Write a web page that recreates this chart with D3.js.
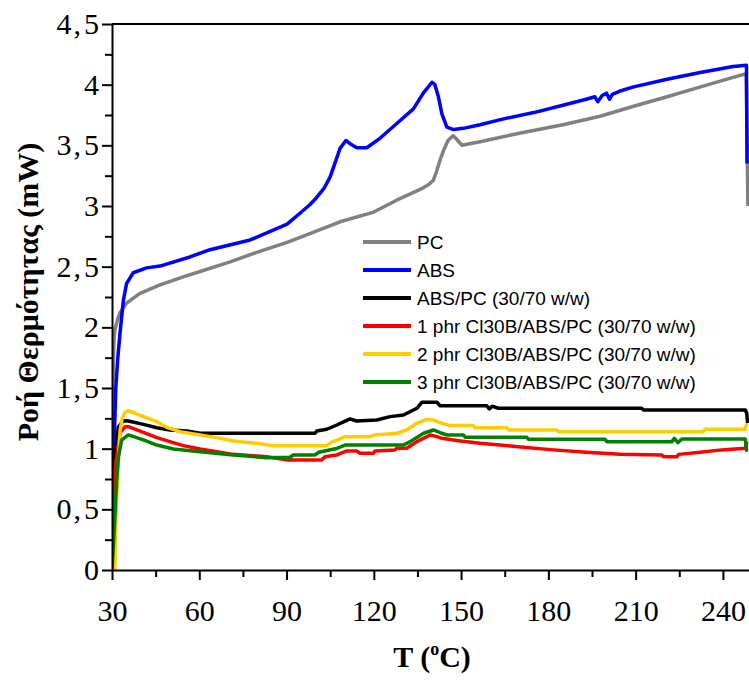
<!DOCTYPE html>
<html>
<head>
<meta charset="utf-8">
<script src="https://cdn.jsdelivr.net/npm/d3@7"></script>
<style>
  html, body { margin: 0; padding: 0; background: #fff; }
  svg { display: block; }
  .serif { font-family: "Liberation Serif", "Times New Roman", Times, serif; }
  .sans { font-family: "Liberation Sans", Arial, Helvetica, sans-serif; }
</style>
</head>
<body>
<svg id="chart" width="749" height="693"></svg>
<script>
// DSC heat flow curves: temperature (°C) and heat flow (mW) for each sample
const pcT = [30.0, 30.15, 30.3, 30.5, 30.7, 31.0, 32.0, 32.75, 35, 39.6, 46.5, 55, 60.3, 70.6, 80, 90.2, 100, 108.4, 120, 128, 133.5, 137, 139, 140.4, 141.5, 142.8, 144, 145.5, 147.2, 148.5, 150.3, 156.5, 170, 185, 197.8, 209, 220.8, 232, 243.5, 248.0, 248.6];
const pcFlow = [0.5, 1.0, 1.5, 1.75, 1.9, 1.98, 2.07, 2.12, 2.2, 2.28, 2.35, 2.42, 2.46, 2.54, 2.62, 2.70, 2.79, 2.87, 2.95, 3.05, 3.11, 3.15, 3.18, 3.21, 3.28, 3.38, 3.46, 3.54, 3.58, 3.55, 3.50, 3.53, 3.60, 3.67, 3.74, 3.82, 3.90, 3.98, 4.06, 4.09, 3.0];

const absT = [30.0, 30.3, 30.7, 31.3, 32.0, 32.75, 33.9, 35, 37.3, 41.9, 46.5, 56.8, 63.7, 77.5, 90.2, 94.6, 98, 99.8, 103, 105, 108.4, 110.4, 112, 114.1, 117.6, 122.2, 127.9, 133.6, 137, 140, 141, 142.2, 143.4, 145.1, 147.4, 150.8, 156.5, 165, 175, 185, 193, 196, 197, 198.5, 200, 201, 202, 205, 209, 220.8, 232.2, 243.5, 248.1, 248.3];
const absFlow = [0.05, 0.35, 1.0, 1.5, 1.75, 1.95, 2.22, 2.36, 2.45, 2.49, 2.505, 2.58, 2.64, 2.72, 2.85, 2.94, 3.01, 3.055, 3.15, 3.24, 3.475, 3.54, 3.51, 3.48, 3.48, 3.56, 3.68, 3.80, 3.93, 4.02, 4.0, 3.90, 3.76, 3.65, 3.63, 3.64, 3.67, 3.72, 3.77, 3.83, 3.88, 3.90, 3.86, 3.91, 3.93, 3.88, 3.92, 3.95, 3.98, 4.045, 4.10, 4.15, 4.16, 3.35];

const blendT = [30.1, 30.45, 30.8, 31.4, 32.2, 33.9, 35.6, 40.8, 45.4, 49.9, 55.7, 60.3, 80.9, 99.8, 100.4, 103.8, 107.3, 111.8, 114.1, 121, 125.6, 130.2, 134.8, 136.5, 141.7, 142.8, 158.8, 159.7, 160.6, 162.8, 212.1, 212.7, 247.7, 248.2, 248.5];
const blendFlow = [0, 0.33, 0.66, 1.02, 1.18, 1.23, 1.228, 1.20, 1.173, 1.154, 1.146, 1.127, 1.127, 1.127, 1.146, 1.16, 1.195, 1.245, 1.228, 1.236, 1.264, 1.277, 1.333, 1.382, 1.382, 1.354, 1.354, 1.327, 1.35, 1.333, 1.333, 1.319, 1.319, 1.29, 1.21];

const phr1T = [30.2, 30.5, 31.0, 31.6, 32.75, 34.5, 35.6, 40.8, 45.4, 49.9, 54.5, 60.3, 66, 71.7, 83.2, 90.6, 102.1, 103.2, 107.3, 110.7, 114.1, 115.3, 119.9, 120.4, 127.3, 127.9, 131.3, 134.8, 139.4, 141.7, 143.4, 149.1, 156.5, 163.4, 171.4, 181.7, 193.2, 204.7, 219, 219.6, 224.2, 224.8, 232.2, 239.6, 247.7, 248.2];
const phr1Flow = [0, 0.39, 0.82, 0.93, 1.13, 1.18, 1.181, 1.135, 1.091, 1.058, 1.025, 0.997, 0.975, 0.953, 0.934, 0.907, 0.907, 0.934, 0.948, 0.981, 0.981, 0.962, 0.962, 0.981, 0.99, 1.003, 1.003, 1.058, 1.113, 1.099, 1.085, 1.066, 1.044, 1.03, 1.011, 0.99, 0.97, 0.953, 0.948, 0.934, 0.934, 0.953, 0.97, 0.99, 1.003, 1.058];

const phr2T = [31.0, 31.2, 31.6, 32.2, 32.8, 33.5, 34.5, 35.6, 40.8, 45.4, 48.8, 53.4, 60.3, 66, 71.7, 79.8, 84.9, 103.8, 105.5, 108.4, 110.1, 118.7, 120.4, 127.9, 131.3, 134.8, 138.2, 140.5, 143.4, 146.2, 154.2, 154.8, 165.7, 166.3, 182.9, 183.5, 233.3, 233.9, 247.7, 248.2];
const phr2Flow = [0, 0.3, 0.6, 0.9, 1.15, 1.25, 1.30, 1.313, 1.264, 1.222, 1.176, 1.14, 1.113, 1.091, 1.063, 1.044, 1.025, 1.025, 1.053, 1.08, 1.099, 1.099, 1.113, 1.127, 1.154, 1.209, 1.242, 1.236, 1.209, 1.19, 1.19, 1.173, 1.173, 1.154, 1.154, 1.14, 1.14, 1.16, 1.16, 1.21];

const phr3T = [30.0, 30.45, 31.0, 31.6, 32.2, 33.3, 35.6, 40.8, 45.4, 51.1, 60.3, 71.7, 83.2, 91.2, 92.3, 99.8, 101, 107.3, 110.1, 130.2, 132.5, 137.1, 140.5, 143.4, 145.1, 150.8, 151.4, 172.6, 173.2, 199.5, 200.1, 222.5, 223.3, 224.5, 225.9, 247.7, 248.2];
const phr3Flow = [0, 0.19, 0.44, 0.74, 0.93, 1.07, 1.113, 1.072, 1.03, 0.997, 0.975, 0.948, 0.926, 0.929, 0.948, 0.948, 0.97, 1.002, 1.03, 1.03, 1.058, 1.127, 1.154, 1.127, 1.113, 1.113, 1.094, 1.094, 1.077, 1.077, 1.058, 1.058, 1.085, 1.05, 1.08, 1.08, 0.975];

const seriesNames = ["PC", "ABS", "ABS/PC (30/70 w/w)", "1 phr Cl30B/ABS/PC (30/70 w/w)", "2 phr Cl30B/ABS/PC (30/70 w/w)", "3 phr Cl30B/ABS/PC (30/70 w/w)"];
const seriesColors = ["#808080", "#0000ff", "#000000", "#ff0000", "#ffcc00", "#008000"];

const xTicks = [30, 60, 90, 120, 150, 180, 210, 240];
const xMinorTicks = [45, 75, 105, 135, 165, 195, 225];
const yTicks = [0, 0.5, 1, 1.5, 2, 2.5, 3, 3.5, 4, 4.5];
const yMinorTicks = [0.25, 0.75, 1.25, 1.75, 2.25, 2.75, 3.25, 3.75, 4.25];

const series = [
  [pcT, pcFlow], [absT, absFlow], [blendT, blendFlow],
  [phr1T, phr1Flow], [phr2T, phr2Flow], [phr3T, phr3Flow]
].map(([t, f], i) => ({
  name: seriesNames[i],
  color: seriesColors[i],
  points: t.map((d, j) => ({ t: d, v: f[j] }))
}));

const margin = { left: 112, top: 24 };
const plotW = 640, plotH = 546;
const svg = d3.select("#chart");

const x = d3.scaleLinear().domain([30, 250]).range([margin.left, margin.left + plotW]);
const y = d3.scaleLinear().domain([0, 4.5]).range([margin.top + plotH, margin.top]);

// frame (top and right edges)
svg.append("path")
  .attr("d", `M${x(30)},${y(4.5)}H${x(250)}V${y(0)}`)
  .attr("fill", "none").attr("stroke", "#000").attr("stroke-width", 2);

// clip for the curves
svg.append("clipPath").attr("id", "plotClip")
  .append("rect").attr("x", x(30)).attr("y", y(4.5) - 5).attr("width", plotW).attr("height", plotH + 5);

const line = d3.line().x(d => x(d.t)).y(d => y(d.v));
const curves = svg.append("g").attr("clip-path", "url(#plotClip)");
series.forEach(s => {
  curves.append("path")
    .datum(s.points)
    .attr("d", line)
    .attr("fill", "none")
    .attr("stroke", s.color)
    .attr("stroke-width", 3.5)
    .attr("stroke-linejoin", "round");
});

// axes
function styleAxis(g) {
  g.attr("font-family", null).attr("font-size", null);
  g.select(".domain").attr("stroke-width", 2);
  g.selectAll(".tick line").attr("stroke-width", 2);
  g.selectAll("text").attr("class", "serif").style("font-size", "30px").attr("fill", "#000");
}

const xAxis = svg.append("g")
  .attr("transform", `translate(0,${y(0)})`)
  .call(d3.axisBottom(x).tickValues(xTicks).tickSize(10).tickPadding(20).tickSizeOuter(0));
styleAxis(xAxis);

svg.append("g")
  .attr("transform", `translate(0,${y(0)})`)
  .call(d3.axisBottom(x).tickValues(xMinorTicks).tickSize(7).tickFormat("").tickSizeOuter(0))
  .call(g => { g.select(".domain").remove(); g.selectAll(".tick line").attr("stroke-width", 2); });

const yAxis = svg.append("g")
  .attr("transform", `translate(${x(30)},0)`)
  .call(d3.axisLeft(y).tickValues(yTicks).tickFormat("").tickSize(10).tickPadding(3).tickSizeOuter(0));
styleAxis(yAxis);
// decimal-comma labels, with the comma set slightly apart from the digits
yAxis.selectAll(".tick text").each(function (d) {
  const parts = String(d).split(".");
  const t = d3.select(this);
  t.append("tspan").text(parts[0]);
  if (parts.length > 1) {
    t.append("tspan").attr("dx", 2).text(",");
    t.append("tspan").attr("dx", 3).text(parts[1]);
  }
});

svg.append("g")
  .attr("transform", `translate(${x(30)},0)`)
  .call(d3.axisLeft(y).tickValues(yMinorTicks).tickSize(7).tickFormat("").tickSizeOuter(0))
  .call(g => { g.select(".domain").remove(); g.selectAll(".tick line").attr("stroke-width", 2); });

// axis titles
svg.append("text")
  .attr("class", "serif")
  .attr("transform", `translate(38,${(y(0) + y(4.5)) / 2 - 5}) rotate(-90)`)
  .attr("text-anchor", "middle")
  .style("font-weight", "bold").style("font-size", "30px")
  .text("Ροή Θερμότητας (mW)");

const xt = svg.append("text")
  .attr("class", "serif")
  .attr("x", (x(30) + x(250)) / 2)
  .attr("y", 667)
  .attr("text-anchor", "middle")
  .style("font-weight", "bold").style("font-size", "30px");
xt.append("tspan").text("T (");
xt.append("tspan").style("font-size", "18px").attr("dy", -12).text("o");
xt.append("tspan").attr("dy", 12).text("C)");

// legend
const legend = svg.append("g").attr("transform", "translate(363,242)");
series.forEach((s, i) => {
  const row = legend.append("g").attr("transform", `translate(0,${i * 28})`);
  row.append("line").attr("x1", 0).attr("x2", 48).attr("y1", 0).attr("y2", 0)
    .attr("stroke", s.color).attr("stroke-width", 4);
  row.append("text").attr("class", "sans").attr("x", 54).attr("y", 7)
    .style("font-size", "19px").attr("fill", "#000")
    .text(s.name);
});
</script>
</body>
</html>
